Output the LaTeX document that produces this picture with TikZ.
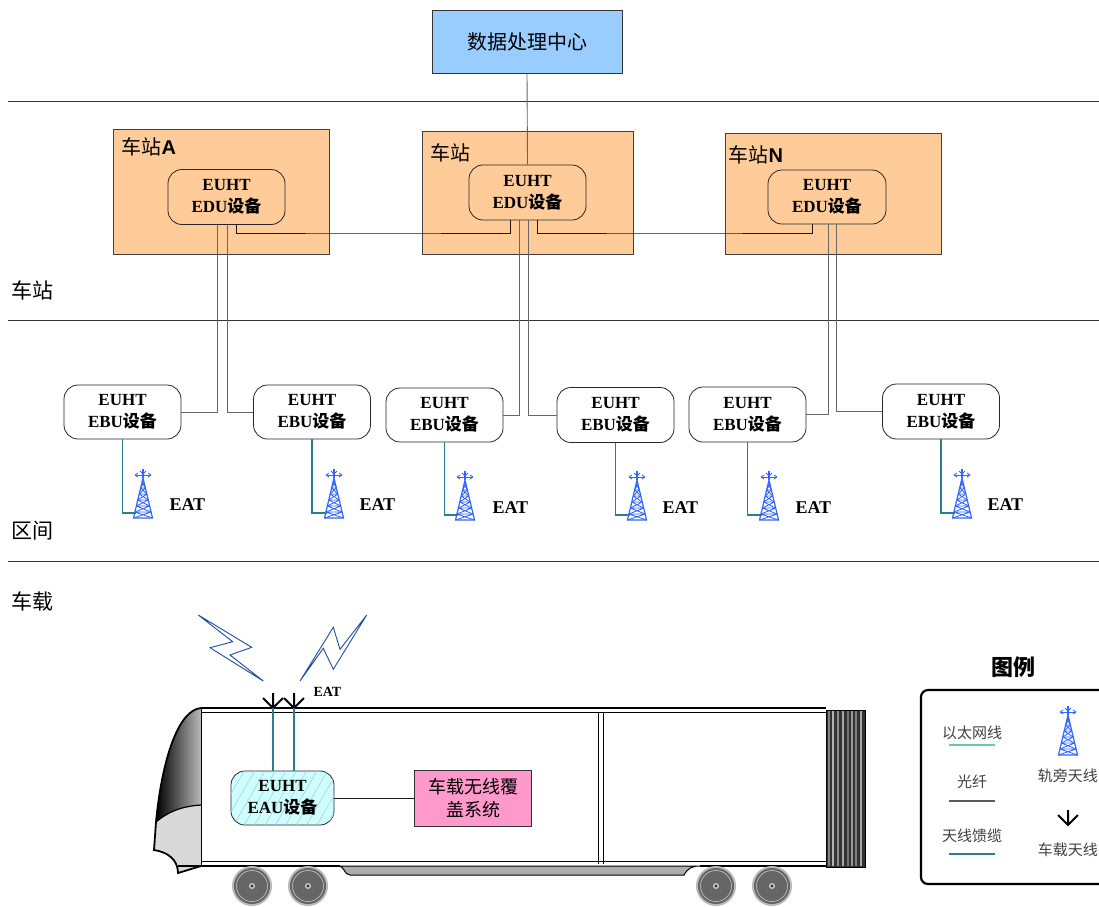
\documentclass[tikz,border=0pt]{standalone}
\usepackage{fontspec}
\setmainfont{Liberation Serif}
\newfontfamily\cjk{Noto Sans CJK SC}
\newfontfamily\arialf{Liberation Sans}
\usetikzlibrary{patterns.meta}

\definecolor{peach}{HTML}{FFCC99}
\definecolor{skyb}{HTML}{99CCFF}
\definecolor{pinkb}{HTML}{FF99CC}
\definecolor{cyanl}{HTML}{CCFFFF}
\definecolor{feedc}{HTML}{2A7F8F}
\definecolor{towerb}{HTML}{3366FF}
\definecolor{boltb}{HTML}{1F4E9A}
\definecolor{ethg}{HTML}{66CC99}

\tikzset{
  station/.style={draw=black!75, fill=peach, line width=0.8pt},
  unitbox/.style={draw=black!85, rounded corners=14pt, line width=0.8pt, align=center,
    inner sep=0pt, font=\fontsize{17}{22}\selectfont\bfseries},
  fiber/.style={draw=black!60, line width=0.9pt},
  ether/.style={draw=black!90, line width=0.9pt},
  feeder/.style={draw=feedc, line width=1.2pt},
  sepline/.style={draw=black!80, line width=0.8pt},
  eat/.style={anchor=west, font=\fontsize{18}{20}\selectfont\bfseries},
  legtext/.style={font=\fontsize{15}{17}\selectfont\cjk, text=black!75},
  tower/.pic={
    \begin{scope}[draw=towerb, line width=0.85pt]
      \foreach \a/\b in {0/6,6/12,12/18,18/24,24/30,30/36}{
        \pgfmathsetmacro\wa{9.5*(1-\a/40)}
        \pgfmathsetmacro\wb{9.5*(1-\b/40)}
        \draw (-\wa,-\a) -- (\wb,-\b) (\wa,-\a) -- (-\wb,-\b) (-\wb,-\b) -- (\wb,-\b);
      }
      \draw[line width=1.2pt] (-9.5,0) -- (0,-40) -- (9.5,0) -- cycle;
      \draw[line width=1.1pt] (0,-40) -- (0,-49);
      \draw (-8,-43) -- (8,-43);
      \draw (-8,-43) -- (-5,-45) (-8,-43) -- (-5,-41) (8,-43) -- (5,-45) (8,-43) -- (5,-41);
      \draw (0,-44) -- (-3,-47) (0,-44) -- (3,-47);
    \end{scope}
  },
  downarrow/.pic={
    \draw[line width=2pt] (0,-15) -- (0,0) (-10,-10) -- (0,0) -- (10,-10);
  }
}

\begin{document}
\begin{tikzpicture}[x=1pt,y=-1pt]
\useasboundingbox (0,0) rectangle (1099,906);

% ---------- layer separators and labels ----------
\draw[sepline] (8,101) -- (1099,101);
\draw[sepline] (8,320) -- (1099,320);
\draw[sepline] (8,561) -- (1099,561);
\node[anchor=west, font=\fontsize{21}{24}\selectfont\cjk] (lstation) at (8,290) {车站};
\node[anchor=west, font=\fontsize{21}{24}\selectfont\cjk] (lsection) at (8,531) {区间};
\node[anchor=west, font=\fontsize{21}{24}\selectfont\cjk] (lonboard) at (8,601) {车载};

% ---------- data centre ----------
\node[draw=black!80, fill=skyb, line width=0.8pt, minimum width=190pt, minimum height=63pt,
  font=\fontsize{20}{24}\selectfont\cjk] (dc) at (527,42) {数据处理中心};

% ---------- stations ----------
\path[station] (113,129) rectangle (329,254);
\path[station] (422,131) rectangle (633,254);
\path[station] (725,133) rectangle (941,254);
\node[anchor=west, font=\fontsize{20}{24}\selectfont] (sta) at (118,147) {{\cjk 车站}{\arialf\bfseries A}};
\node[anchor=west, font=\fontsize{20}{24}\selectfont] (stm) at (427,153) {{\cjk 车站}};
\node[anchor=west, font=\fontsize{20}{24}\selectfont] (stn) at (725,155) {{\cjk 车站}{\arialf\bfseries N}};

\node[unitbox, fill=peach, minimum width=117pt, minimum height=55pt] (edua) at (226.5,197) {EUHT\\EDU{\cjk 设备}};
\node[unitbox, fill=peach, minimum width=117pt, minimum height=55pt] (edum) at (527.5,192.5) {EUHT\\EDU{\cjk 设备}};
\node[unitbox, fill=peach, minimum width=118pt, minimum height=54pt] (edun) at (827,197) {EUHT\\EDU{\cjk 设备}};

% data centre uplink
\draw[fiber] (dc.south) -- (edum.north);

% ethernet ring between stations
\draw[ether] ([xshift=9.5pt]edua.south) |- (373,233) -| ([xshift=-17.5pt]edum.south);
\draw[ether] ([xshift=9.5pt]edum.south) |- (674,233) -| ([xshift=-15pt]edun.south);

% ---------- trackside units ----------
\node[unitbox, fill=white, minimum width=117pt, minimum height=54pt] (ebu1) at (122.5,412) {EUHT\\EBU{\cjk 设备}};
\node[unitbox, fill=white, minimum width=117pt, minimum height=54pt] (ebu2) at (312,412) {EUHT\\EBU{\cjk 设备}};
\node[unitbox, fill=white, minimum width=117pt, minimum height=54pt] (ebu3) at (444.5,415) {EUHT\\EBU{\cjk 设备}};
\node[unitbox, fill=white, minimum width=117pt, minimum height=55pt] (ebu4) at (615.5,415) {EUHT\\EBU{\cjk 设备}};
\node[unitbox, fill=white, minimum width=117pt, minimum height=55pt] (ebu5) at (747.5,414.5) {EUHT\\EBU{\cjk 设备}};
\node[unitbox, fill=white, minimum width=117pt, minimum height=55pt] (ebu6) at (941,411.5) {EUHT\\EBU{\cjk 设备}};

% fibre pairs down from each station
\draw[fiber] ([xshift=-9.5pt]edua.south) |- (ebu1.east);
\draw[fiber] ([xshift=0.5pt]edua.south) |- (ebu2.west);
\draw[fiber] ([xshift=-8.5pt]edum.south) |- (ebu3.east);
\draw[fiber] ([xshift=0.5pt]edum.south) |- (ebu4.west);
\draw[fiber] ([xshift=1pt]edun.south) |- (ebu5.east);
\draw[fiber] ([xshift=9pt]edun.south) |- (ebu6.west);

% trackside antennas
\foreach \i/\x/\y in {1/143/518, 2/334/518, 3/465/520, 4/637/520, 5/769/520, 6/962/518}{
  \coordinate (tw\i) at (\x,\y);
  \pic at (tw\i) {tower};
}
\foreach \i in {1,...,6}{
  \draw[feeder] (ebu\i.south) |- ([xshift=-7pt,yshift=5pt]tw\i);
}
\node[eat] (eat1) at (166,505) {EAT};
\node[eat] (eat2) at (356,505) {EAT};
\node[eat] (eat3) at (489,508) {EAT};
\node[eat] (eat4) at (659,508) {EAT};
\node[eat] (eat5) at (792,508) {EAT};
\node[eat] (eat6) at (984,505) {EAT};

% ---------- train ----------
% nose
\fill[gray!30] (156,822) .. controls (170,810) and (185,806) .. (201,805) -- (201,866) -- (178,872)
  .. controls (178,860) and (168,852) .. (154,850) -- cycle;
\shade[left color=black, right color=gray!55] (201,708) .. controls (178,710) and (162,760) .. (156,822)
  .. controls (170,810) and (185,806) .. (201,805) -- cycle;
\draw[line width=1.8pt] (201,708) .. controls (178,710) and (162,760) .. (156,822) -- (154,850)
  .. controls (168,852) and (178,860) .. (178,873) -- (201,866);
\draw[line width=1.2pt] (156,822) .. controls (170,810) and (185,806) .. (201,805);
\draw[line width=1pt] (201,708) -- (201,866);
% roof and floor
\draw[line width=1.8pt] (201,708) -- (826,708);
\draw[line width=0.8pt] (201,712.5) -- (826,712.5);
\draw[line width=0.8pt] (201,861) -- (826,861);
\draw[line width=1.8pt] (178,866) -- (340,866);
\draw[line width=1.8pt] (700,866) -- (826,866);
% underframe
\draw[fill=gray!65, line width=1pt] (338,866) .. controls (345,866) and (344,875) .. (350,875) -- (684,875)
  .. controls (688,868) and (692,866) .. (700,866) -- cycle;
% car divider
\draw[line width=0.8pt] (598,712.5) -- (598,864) (603,712.5) -- (603,864);
% rear gangway
\fill[black!80] (826,710) rectangle (865,867);
\foreach \x/\c in {829/50,833/30,838/45,843/35,848/55,852/40,856/50,861/35}{
  \draw[black!\c, line width=1.2pt] (\x,711) -- (\x,866);
}
\draw[line width=0.8pt] (826,710) rectangle (865,867);
% wheels
\foreach \x in {252,308,716,772}{
  \fill[gray!55] (\x,886) circle (20);
  \fill[gray!80!black] (\x,886) circle (18);
  \draw[gray!55, line width=0.7pt] (\x,886) circle (15.5);
  \fill[gray!40] (\x,886) circle (3);
  \fill[black!80] (\x,886) circle (1.6);
}

% roof antennas and radio link
\coordinate (ra1) at (273,708);
\coordinate (ra2) at (294,708);
\pic at (ra1) {downarrow};
\pic at (ra2) {downarrow};
\node[anchor=west, font=\fontsize{14}{16}\selectfont\bfseries] (eatcar) at (310,692) {EAT};
\draw[boltb, fill=white, line width=0.9pt] (198.3,615) -- (251.7,647.3) -- (230,655) -- (263.3,681)
  -- (210,647.7) -- (232.7,641.7) -- cycle;
\draw[boltb, fill=white, line width=0.9pt] (366.7,615) -- (340,649.3) -- (333.3,627.3) -- (300,681)
  -- (323.3,648.3) -- (333.3,669.3) -- cycle;

% on-board units
\node[unitbox, fill=cyanl, postaction={pattern={Lines[angle=60, distance=9pt, line width=0.6pt]}, pattern color=gray!45},
  minimum width=103pt, minimum height=54pt] (eau) at (282.5,798) {EUHT\\EAU{\cjk 设备}};
\node[draw=black!80, fill=pinkb, line width=0.8pt, minimum width=117pt, minimum height=56pt, align=center,
  font=\fontsize{18}{23}\selectfont\cjk] (cov) at (473,798) {车载无线覆\\盖系统};
\draw[feeder] (ra1) -- (ra1 |- eau.north);
\draw[feeder] (ra2) -- (ra2 |- eau.north);
\draw[ether] (eau) -- (cov);

% ---------- legend ----------
\node[font=\fontsize{22}{24}\selectfont\cjk\bfseries] (lgt) at (1013,667) {图例};
\draw[line width=2.2pt, rounded corners=7pt] (921,690) rectangle (1112,884);
\node[legtext] (lg1) at (972,733) {以太网线};
\node[legtext] (lg2) at (972,782) {光纤};
\node[legtext] (lg3) at (972,836) {天线馈缆};
\draw[ethg, line width=1.2pt] (949,745) -- (995,745);
\draw[black!65, line width=1.2pt] (949,801) -- (995,801);
\draw[feedc, line width=1.2pt] (949,854) -- (995,854);
\coordinate (lgtw) at (1068,755);
\pic at (lgtw) {tower};
\node[legtext, anchor=east, inner sep=0pt] (lg4) at (1098,776) {轨旁天线};
\coordinate (lgar) at (1068,825);
\pic at (lgar) {downarrow};
\node[legtext, anchor=east, inner sep=0pt] (lg5) at (1098,850) {车载天线};
\end{tikzpicture}
\end{document}
